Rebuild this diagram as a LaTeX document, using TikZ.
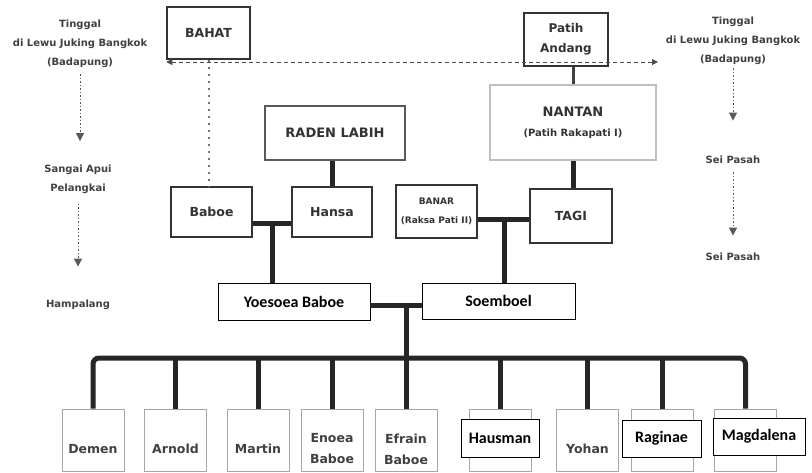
\documentclass[tikz,border=0pt]{standalone}
\usepackage{fontspec}
\setmainfont{DejaVu Sans}
\newfontfamily\calfont{Carlito}
\usetikzlibrary{arrows.meta}

\begin{document}
\begin{tikzpicture}[x=1pt,y=-1pt,
  oldbox/.style={draw=black!80,line width=1.5pt,inner sep=0pt,align=center,text=black!80,font=\bfseries\fontsize{12.5}{14}\selectfont},
  kidbox/.style={draw=black!35,line width=1pt,minimum width=62pt,minimum height=62pt,inner sep=0pt},
  kidtext/.style={yshift=-9pt,align=center,text=black!75,font=\bfseries\fontsize{12.5}{21}\selectfont},
  newbox/.style={draw=black,line width=0.8pt,fill=white,inner sep=0pt,font=\calfont\bfseries\fontsize{16}{20}\selectfont},
  placetext/.style={align=center,text=black!75,font=\bfseries\fontsize{10}{19}\selectfont},
  tie/.style={line width=5pt,black!85},
  trail/.style={dash pattern=on 1.5pt off 2pt,line width=1pt,black!65,-{Triangle[width=8pt,length=8pt]}},
  dotline/.style={dash pattern=on 2pt off 5pt,line width=2pt,black!55}]
  \useasboundingbox (0,0) rectangle (812,472);

  % old chart
  \node[oldbox,minimum width=83pt,minimum height=52pt] (bahat) at (208.5,33) {BAHAT};
  \node[oldbox,minimum width=84pt,minimum height=53pt,font=\bfseries\fontsize{12}{20}\selectfont] (patih) at (566,39.5) {Patih\\Andang};
  \node[oldbox,draw=black!25,minimum width=166pt,minimum height=75pt,font=\bfseries\fontsize{13}{20}\selectfont] (nantan) at (573,122.5) {NANTAN\\{\fontsize{10}{12}\selectfont(Patih Rakapati I)}};
  \node[oldbox,draw=black!65,line width=1.2pt,minimum width=140pt,minimum height=54pt,font=\bfseries\fontsize{13}{14}\selectfont] (raden) at (335,133) {RADEN LABIH};
  \node[oldbox,minimum width=81pt,minimum height=50pt] (baboe) at (211.5,212) {Baboe};
  \node[oldbox,minimum width=80pt,minimum height=50pt] (hansa) at (332,212) {Hansa};
  \node[oldbox,minimum width=81pt,minimum height=53pt,font=\bfseries\fontsize{9}{19}\selectfont] (banar) at (436.5,211.5) {BANAR\\(Raksa Pati II)};
  \node[oldbox,minimum width=82pt,minimum height=54pt] (tagi) at (571,216) {TAGI};

  \node[placetext] (tingL) at (80,44) {Tinggal\\di Lewu Juking Bangkok\\(Badapung)};
  \node[placetext] (sangai) at (78,179) {Sangai Apui\\Pelangkai};
  \node[placetext] (hampalang) at (78,305) {Hampalang};
  \node[placetext] (tingR) at (733,41) {Tinggal\\di Lewu Juking Bangkok\\(Badapung)};
  \node[placetext] (seiA) at (733,160) {Sei Pasah};
  \node[placetext] (seiB) at (733,257) {Sei Pasah};

  \draw[trail,shorten <=3pt,shorten >=20pt] (tingL.south) -- (tingL.south |- sangai.north);
  \draw[trail,shorten <=7pt,shorten >=30pt] (sangai.south) -- (sangai.south |- hampalang.north);
  \draw[trail,shorten >=32pt] (tingR.south) -- (tingR.south |- seiA.north);
  \draw[trail,shorten <=5pt,shorten >=14pt] (seiA.south) -- (seiA.south |- seiB.north);

  \coordinate (dashend) at (658,62);
  \draw[dash pattern=on 4pt off 3pt,line width=1pt,black!70,{Triangle[width=6pt,length=6pt]}-{Triangle[width=6pt,length=6pt]}] (bahat.south west |- dashend) -- (dashend);
  \draw[dotline] (bahat.south) -- (bahat.south |- baboe.north);

  \draw[tie,line width=3pt,black!75] (nantan.north |- patih.south) -- (nantan.north);
  \draw[tie] (nantan.south) -- (nantan.south |- tagi.north);
  \draw[tie] (hansa.north |- raden.south) -- (hansa.north);

  % new names
  \node[newbox,minimum width=152pt,minimum height=37pt] (yoesoea) at (294,301.5) {Yoesoea Baboe};
  \node[newbox,minimum width=153pt,minimum height=36pt] (soemboel) at (498.5,301) {Soemboel};

  \coordinate (jA) at (272,223);
  \draw[tie] (baboe.east |- jA) -- (hansa.west |- jA);
  \draw[tie] (jA) -- (jA |- yoesoea.north);
  \coordinate (jB) at (504,219);
  \draw[tie] (banar.east |- jB) -- (tagi.west |- jB);
  \draw[tie] (jB) -- (jB |- soemboel.north);
  \coordinate (jC) at (406,305);
  \coordinate (bar) at (406,358);
  \draw[tie] (yoesoea.east |- jC) -- (soemboel.west |- jC);
  \draw[tie] (jC) -- (bar);

  % children
  \foreach \n/\x/\t in {demen/93/Demen, arnold/175.5/Arnold, martin/258/Martin, enoea/332/{Enoea\\Baboe}, efrain/406/{Efrain\\Baboe}, yohan/587.5/Yohan}
    \node[kidbox,label={[kidtext]center:\t}] (\n) at (\x,440) {};
  \foreach \n/\x in {hausF/500, ragF/662, magF/745.5}
    \node[kidbox] (\n) at (\x,440) {};

  \draw[tie,rounded corners=6pt] (demen.north) |- (bar) -| (magF.north);
  \foreach \n in {arnold,martin,enoea,efrain,hausF,yohan,ragF}
    \draw[tie] (\n.north) -- (\n.north |- bar);

  \node[newbox,minimum width=78pt,minimum height=38pt] (hausman) at (500,438) {Hausman};
  \node[newbox,minimum width=79pt,minimum height=37pt] (raginae) at (661.5,438.5) {Raginae};
  \node[newbox,minimum width=92pt,minimum height=37pt] (magdalena) at (759,436.5) {Magdalena};
\end{tikzpicture}
\end{document}
